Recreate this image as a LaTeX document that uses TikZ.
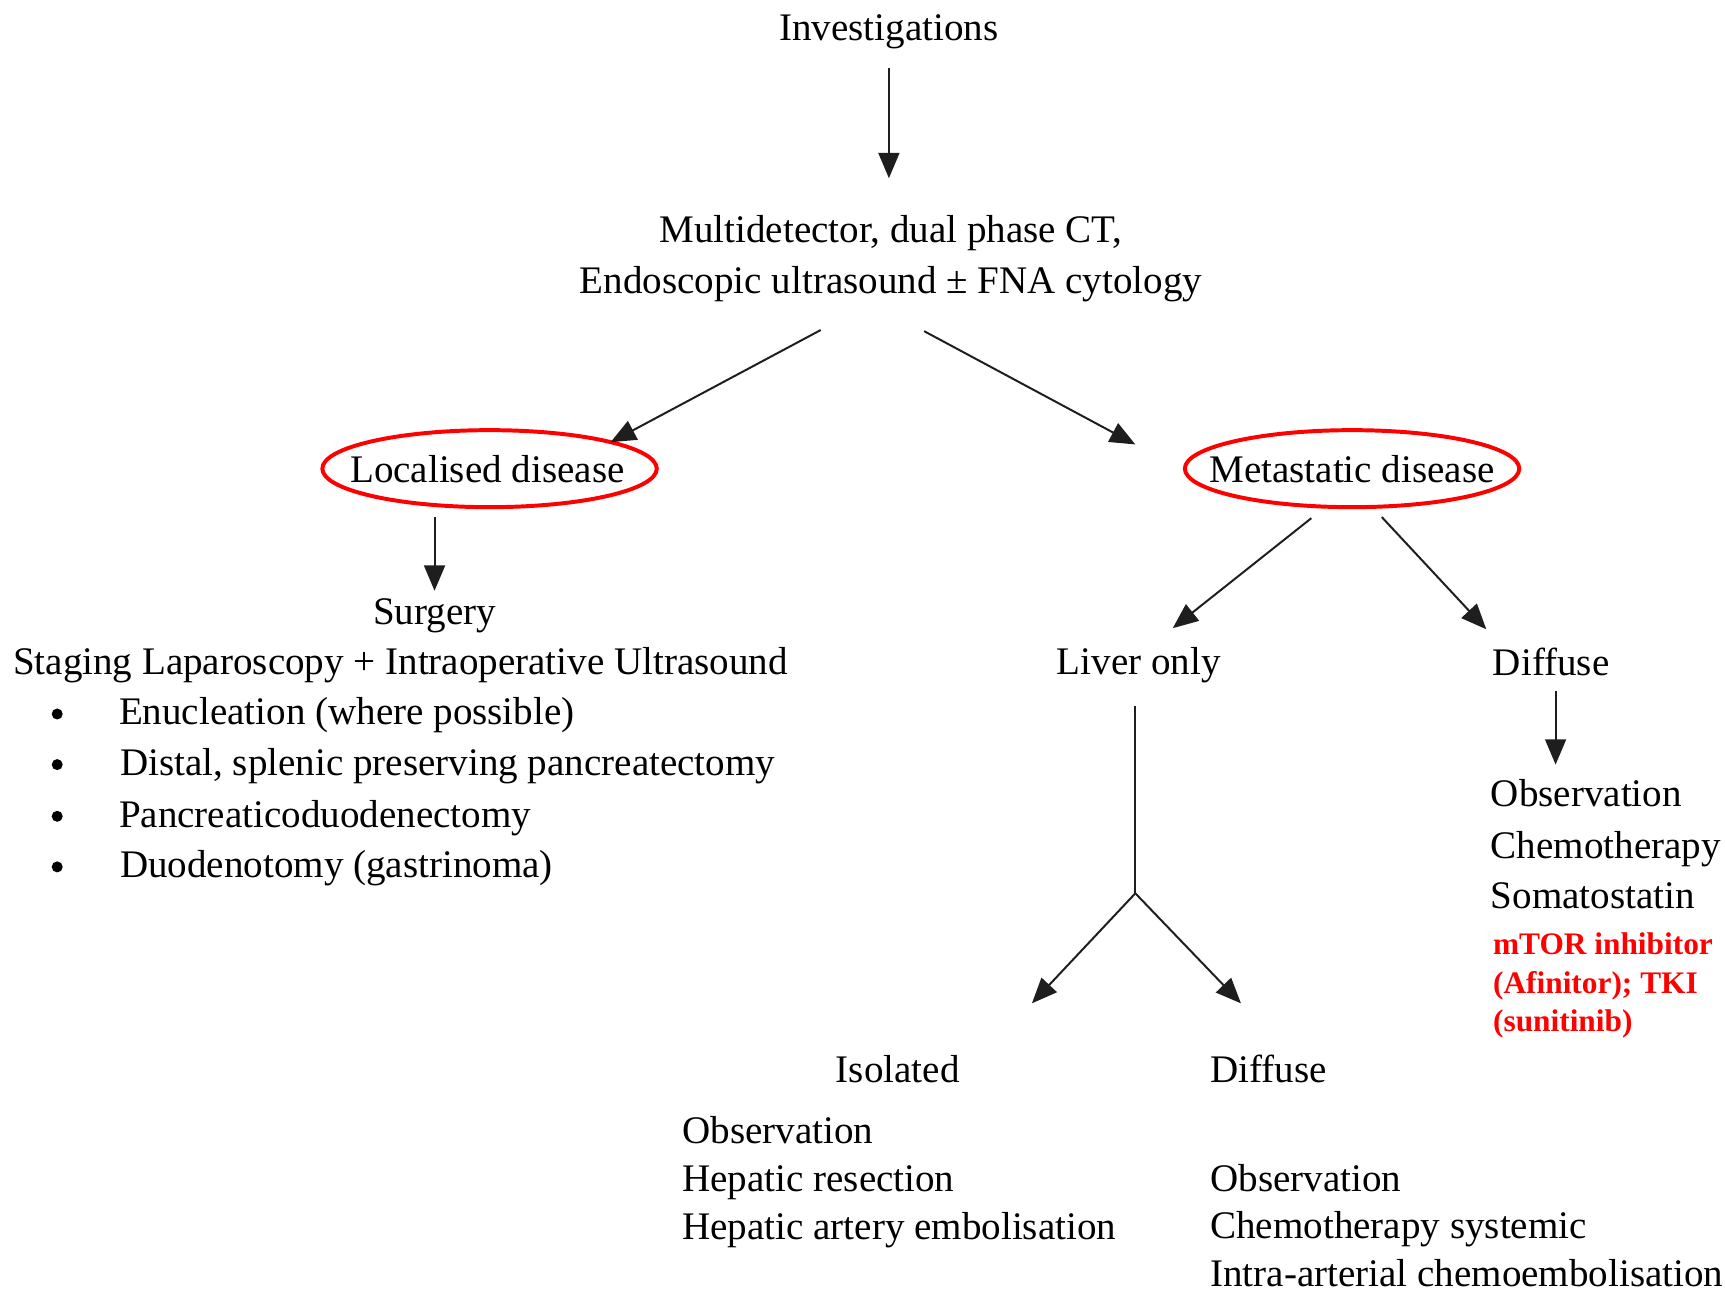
\documentclass[tikz,border=0pt]{standalone}
\usepackage{fontspec}
\setmainfont{Liberation Serif}
\usetikzlibrary{arrows.meta}
\begin{document}
\begin{tikzpicture}[x=1pt,y=-1pt,
  txt/.style={inner sep=0pt,font=\fontsize{35.5}{46.5}\selectfont},
  ctxt/.style={txt,anchor=base},
  ltxt/.style={txt,anchor=base west},
  bul/.style={circle,fill=black,inner sep=0pt,minimum size=10pt},
  redtxt/.style={inner sep=0pt,anchor=base west,text=red,font=\fontsize{28.5}{35}\selectfont\bfseries},
  oval/.style={draw=red,line width=3.6pt},
  arr/.style={line width=1.8pt,draw={rgb,255:red,30;green,30;blue,30},-{Triangle[length=23pt,width=19pt]}},
  plain/.style={line width=1.8pt,draw={rgb,255:red,30;green,30;blue,30}}]
\path[use as bounding box,fill=white] (0,0) rectangle (1568,1175);

% top
\node[ctxt] (inv) at (808,37) {Investigations};
\node[ctxt] (multi1) at (810,220) {Multidetector, dual phase CT,};
\node[ctxt] (multi2) at (810,267) {Endoscopic ultrasound ± FNA cytology};

\node[txt] (loc) at (443,426) {Localised disease};
\node[txt] (met) at (1229,426) {Metastatic disease};
\draw[oval] (445,426) ellipse [x radius=152, y radius=35];
\draw[oval] (1229,426) ellipse [x radius=152, y radius=35];

% localised branch
\node[ctxt] (surg) at (395,568) {Surgery};
\node[ctxt] (stag) at (364,613) {Staging Laparoscopy + Intraoperative Ultrasound};
\node[bul] (b1) at (52,649) {};
\node[bul] (b2) at (52,695) {};
\node[bul] (b3) at (52,742) {};
\node[bul] (b4) at (52,788) {};
\node[ltxt] (i1) at (108,659) {Enucleation (where possible)};
\node[ltxt] (i2) at (109,705) {Distal, splenic preserving pancreatectomy};
\node[ltxt] (i3) at (108,752) {Pancreaticoduodenectomy};
\node[ltxt] (i4) at (109,798) {Duodenotomy (gastrinoma)};

% metastatic branch
\node[ctxt] (liver) at (1035,613) {Liver only};
\node[ctxt] (diff) at (1410,614) {Diffuse};
\node[ltxt] (d1) at (1355,733) {Observation};
\node[ltxt] (d2) at (1355,780) {Chemotherapy};
\node[ltxt] (d3) at (1355,826) {Somatostatin};
\node[redtxt] (r1) at (1357,868) {mTOR inhibitor};
\node[redtxt] (r2) at (1357,903) {(Afinitor); TKI};
\node[redtxt] (r3) at (1357,938) {(sunitinib)};

\node[ctxt] (iso) at (816,984) {Isolated};
\node[ltxt] (ldiff) at (1100,984) {Diffuse};
\node[ltxt] (s1) at (620,1039) {Observation};
\node[ltxt] (s2) at (620,1083) {Hepatic resection};
\node[ltxt] (s3) at (620,1127) {Hepatic artery embolisation};
\node[ltxt] (t1) at (1100,1083) {Observation};
\node[ltxt] (t2) at (1100,1126) {Chemotherapy systemic};
\node[ltxt] (t3) at (1100,1169) {Intra-arterial chemoembolisation};

% connector end points
\coordinate (invS) at (808,62);
\coordinate (multiN) at (808,162);
\coordinate (multiSW) at (746,300);
\coordinate (locNE) at (555,402);
\coordinate (multiSE) at (840,301);
\coordinate (metNW) at (1032,404);
\coordinate (locS) at (395,470);
\coordinate (surgN) at (395,537);
\coordinate (metSW) at (1192,471);
\coordinate (liverNE) at (1066,571);
\coordinate (metSE) at (1256,470);
\coordinate (diffNW) at (1351,572);
\coordinate (diffS) at (1414,628);
\coordinate (d1N) at (1414,695);
\coordinate (liverS) at (1032,642);
\coordinate (fork) at (1032,812);
\coordinate (isoNE) at (938,912);
\coordinate (ldiffNW) at (1128,912);

\draw[arr] (invS) -- (multiN);
\draw[arr] (multiSW) -- (locNE);
\draw[arr] (multiSE) -- (metNW);
\draw[arr] (locS) -- (surgN);
\draw[arr] (metSW) -- (liverNE);
\draw[arr] (metSE) -- (diffNW);
\draw[arr] (diffS) -- (d1N);
\draw[plain] (liverS) -- (fork);
\draw[arr] (fork) -- (isoNE);
\draw[arr] (fork) -- (ldiffNW);
\end{tikzpicture}
\end{document}
